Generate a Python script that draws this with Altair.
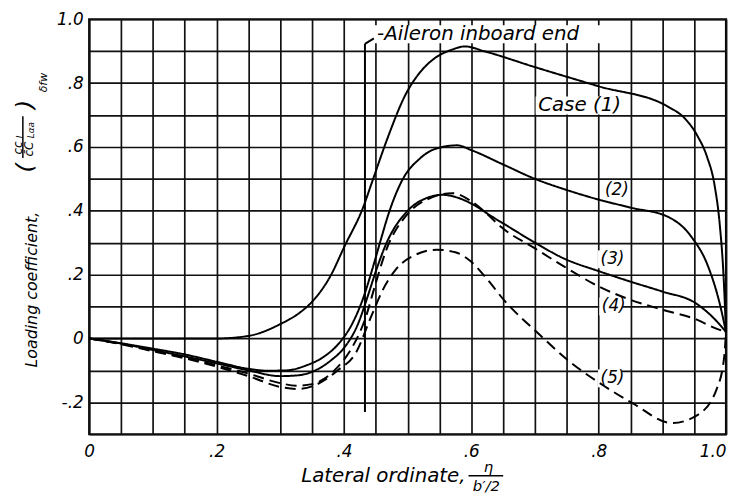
import altair as alt
import pandas as pd

FONT = "DejaVu Sans"

# ---------------- data ----------------
case_names = ["(1)", "(2)", "(3)", "(4)", "(5)"]
case_styles = ["solid", "solid", "solid", "dashed", "dashed"]

x1 = [0, 0.1, 0.2, 0.25, 0.3, 0.33, 0.35, 0.38, 0.40, 0.43, 0.445, 0.468, 0.497, 0.52, 0.544, 0.57, 0.59,
      0.62, 0.7, 0.8, 0.91, 0.935, 0.955, 0.97, 0.982, 0.99, 0.996, 1.0]
y1 = [0, 0, 0.0, 0.008, 0.045, 0.08, 0.115, 0.2, 0.285, 0.41, 0.495, 0.625, 0.765, 0.835, 0.88, 0.905,
      0.915, 0.9, 0.85, 0.79, 0.725, 0.69, 0.635, 0.57, 0.48, 0.36, 0.2, 0.02]

x2 = [0, 0.05, 0.1, 0.15, 0.2, 0.25, 0.28, 0.31, 0.34, 0.37, 0.39, 0.414, 0.43, 0.445, 0.458, 0.47, 0.49,
      0.52, 0.545, 0.578, 0.6, 0.65, 0.7, 0.75, 0.8, 0.85, 0.91, 0.945, 0.972, 0.99, 1.0]
y2 = [0, -0.015, -0.032, -0.05, -0.073, -0.095, -0.101, -0.1, -0.085, -0.055, -0.02, 0.05, 0.125, 0.22,
      0.31, 0.39, 0.49, 0.565, 0.595, 0.605, 0.59, 0.545, 0.50, 0.465, 0.435, 0.41, 0.38, 0.32, 0.225,
      0.11, 0.02]

x3 = [0, 0.05, 0.1, 0.15, 0.2, 0.25, 0.3, 0.33, 0.36, 0.38, 0.4, 0.422, 0.437, 0.45, 0.466, 0.5, 0.53,
      0.555, 0.58, 0.606, 0.63, 0.657, 0.7, 0.746, 0.8, 0.85, 0.9, 0.952, 0.98, 1.0]
y3 = [0, -0.016, -0.036, -0.056, -0.078, -0.1, -0.118, -0.115, -0.095, -0.068, -0.03, 0.045, 0.13, 0.21,
      0.295, 0.40, 0.44, 0.45, 0.44, 0.416, 0.385, 0.352, 0.30, 0.25, 0.211, 0.178, 0.147, 0.111, 0.065,
      0.02]

x4 = [0, 0.05, 0.1, 0.15, 0.2, 0.25, 0.3, 0.325, 0.35, 0.37, 0.39, 0.414, 0.434, 0.448, 0.466, 0.5, 0.53,
      0.57, 0.6, 0.625, 0.647, 0.7, 0.746, 0.8, 0.85, 0.9, 0.954, 0.98, 1.0]
y4 = [0, -0.017, -0.038, -0.06, -0.084, -0.11, -0.14, -0.148, -0.143, -0.125, -0.09, -0.024, 0.065, 0.16,
      0.275, 0.39, 0.435, 0.455, 0.43, 0.39, 0.349, 0.282, 0.225, 0.163, 0.121, 0.09, 0.059, 0.035, 0.02]

x5 = [0, 0.05, 0.1, 0.15, 0.2, 0.25, 0.3, 0.326, 0.35, 0.37, 0.39, 0.419, 0.442, 0.46, 0.481, 0.51, 0.546,
      0.575, 0.6, 0.626, 0.651, 0.704, 0.756, 0.808, 0.855, 0.915, 0.955, 0.985, 0.997, 1.0]
y5 = [0, -0.018, -0.04, -0.062, -0.088, -0.118, -0.152, -0.158, -0.15, -0.13, -0.1, -0.044, 0.065, 0.148,
      0.215, 0.26, 0.278, 0.27, 0.24, 0.183, 0.121, 0.018, -0.075, -0.148, -0.205, -0.265, -0.24, -0.16,
      -0.06, 0.02]

# aileron inboard end marker
aileron_x = 0.433
aileron_y = [-0.23, 0.923]
leader_x = [0.433, 0.447]
leader_y = [0.923, 0.94]

# curve labels
label_text = ["Case (1)", "(2)", "(3)", "(4)", "(5)", "-Aileron inboard end"]
label_x = [0.705, 0.81, 0.803, 0.805, 0.803, 0.452]
label_y = [0.73, 0.465, 0.248, 0.10, -0.125, 0.953]
label_size = [20, 17, 17, 17, 17, 20]
label_w = [0.14, 0.033, 0.033, 0.033, 0.033, 0.365]

# axes
x_grid_vals = [0.0, 0.05, 0.1, 0.15, 0.2, 0.25, 0.3, 0.35, 0.4, 0.45, 0.5, 0.55, 0.6, 0.65, 0.7,
               0.75, 0.8, 0.85, 0.9, 0.95, 1.0]
x_label_vals = [0.0, 0.2, 0.4, 0.6, 0.8, 1.0]
x_label_txt = ["0", ".2", ".4", ".6", ".8", "1.0"]
y_grid_vals = [-0.3, -0.2, -0.1, 0.0, 0.1, 0.2, 0.3, 0.4, 0.5, 0.6, 0.7, 0.8, 0.9, 1.0]
y_label_vals = [-0.2, 0.0, 0.2, 0.4, 0.6, 0.8, 1.0]
y_label_txt = ["-.2", "0", ".2", ".4", ".6", ".8", "1.0"]

# ---------------- tables ----------------
rows = []
for name, style, xs, ys in zip(case_names, case_styles, [x1, x2, x3, x4, x5], [y1, y2, y3, y4, y5]):
    for xv, yv in zip(xs, ys):
        rows.append({"case": name, "style": style, "x": xv, "y": yv})
curves = pd.DataFrame(rows)

labels = pd.DataFrame({"text": label_text, "x": label_x, "y": label_y, "size": label_size})
boxes = pd.DataFrame({
    "x": [v - 0.004 for v in label_x],
    "x2": [v + w for v, w in zip(label_x, label_w)],
    "y": [v - 0.028 for v in label_y],
    "y2": [v + 0.028 for v in label_y],
})
marker = pd.DataFrame({"x": [aileron_x, leader_x[0]], "x2": [aileron_x, leader_x[1]],
                       "y": [aileron_y[0], leader_y[0]], "y2": [aileron_y[1], leader_y[1]]})
dummy = pd.DataFrame({"a": [0]})


def lab_expr(vals, txts):
    e = ""
    for v, t in zip(vals, txts):
        e += f"abs(datum.value - ({v})) < 0.001 ? '{t}' : "
    return e + "''"


xs = alt.Scale(domain=[0, 1], nice=False, zero=False)
ys = alt.Scale(domain=[-0.3, 1.0], nice=False, zero=False)

xaxis = alt.Axis(values=x_grid_vals, labelExpr=lab_expr(x_label_vals, x_label_txt), grid=True,
                 ticks=False, domain=False, labelFontSize=17, labelFont=FONT, labelFontStyle="italic",
                 labelColor="black", labelPadding=9, labelOverlap=False, labelFlush=False,
                 labelAlign={"condition": {"test": "datum.value > 0.99", "value": "right"},
                             "value": "center"},
                 gridColor="#111111", gridWidth=1.7, gridOpacity=1, title=None)
yaxis = alt.Axis(values=y_grid_vals, labelExpr=lab_expr(y_label_vals, y_label_txt), grid=True,
                 ticks=False, domain=False, labelFontSize=17, labelFont=FONT, labelFontStyle="italic",
                 labelColor="black", labelPadding=6, labelOverlap=False, labelFlush=False,
                 labelBaseline="middle",
                 gridColor="#111111", gridWidth=1.7, gridOpacity=1, title=None)

X = alt.X("x:Q", scale=xs, axis=xaxis)
Y = alt.Y("y:Q", scale=ys, axis=yaxis)

box_layer = alt.Chart(boxes).mark_rect(color="white").encode(x=X, x2="x2:Q", y=Y, y2="y2:Q")

curve_layer = alt.Chart(curves).mark_line(color="black", strokeWidth=2, interpolate="monotone").encode(
    x=X, y=Y, detail="case:N",
    strokeDash=alt.StrokeDash("style:N", scale=alt.Scale(domain=["solid", "dashed"],
                                                          range=[[1, 0], [11, 6]]), legend=None),
)

marker_layer = alt.Chart(marker).mark_rule(color="black", strokeWidth=2).encode(
    x=X, x2="x2:Q", y=Y, y2="y2:Q")

label_layer = alt.Chart(labels).mark_text(font=FONT, fontStyle="italic", color="black", align="left",
                                          baseline="middle").encode(
    x=X, y=Y, text="text:N", size=alt.Size("size:Q", scale=None, legend=None))


def ptext(txt, px, py, size, angle=0, align="center"):
    return alt.Chart(dummy).mark_text(text=txt, fontSize=size, angle=angle, align=align,
                                      baseline="middle", font=FONT, fontStyle="italic",
                                      color="black").encode(x=alt.value(px), y=alt.value(py))


def prule(px, px2, py, py2):
    return alt.Chart(dummy).mark_rule(color="black", strokeWidth=1.5).encode(
        x=alt.value(px), x2=alt.value(px2), y=alt.value(py), y2=alt.value(py2))


title_layers = [
    # x-axis title with fraction
    ptext("Lateral ordinate,", 380, 461, 20, align="right"),
    ptext("\u03b7", 403, 452, 15),
    prule(383, 418, 461, 461),
    ptext("b\u2032/2", 401, 471, 15),
    # y-axis title with fraction
    ptext("Loading coefficient,", -58, 273, 16, angle=270),
    ptext("(", -64, 150, 24, angle=270),
    ptext(")", -64, 86, 24, angle=270),
    ptext("cc", -72, 130, 12, angle=270),
    ptext("l", -70, 119, 9, angle=270),
    prule(-67, -67, 98, 140),
    ptext("c\u0304C", -61, 131, 12, angle=270),
    ptext("L\u03b1a", -58.5, 112, 9, angle=270),
    ptext("\u03b4fw", -46, 64, 11, angle=270),
]

chart = alt.layer(box_layer, curve_layer, marker_layer, label_layer, *title_layers).properties(
    width=643, height=419,
    autosize=alt.AutoSizeParams(type="none"),
    padding={"left": 82, "top": 9, "right": 3, "bottom": 60},
    background="white",
).configure_view(stroke="black", strokeWidth=2.2)

chart.save("out.html", embed_options={"renderer": "svg", "actions": False})
